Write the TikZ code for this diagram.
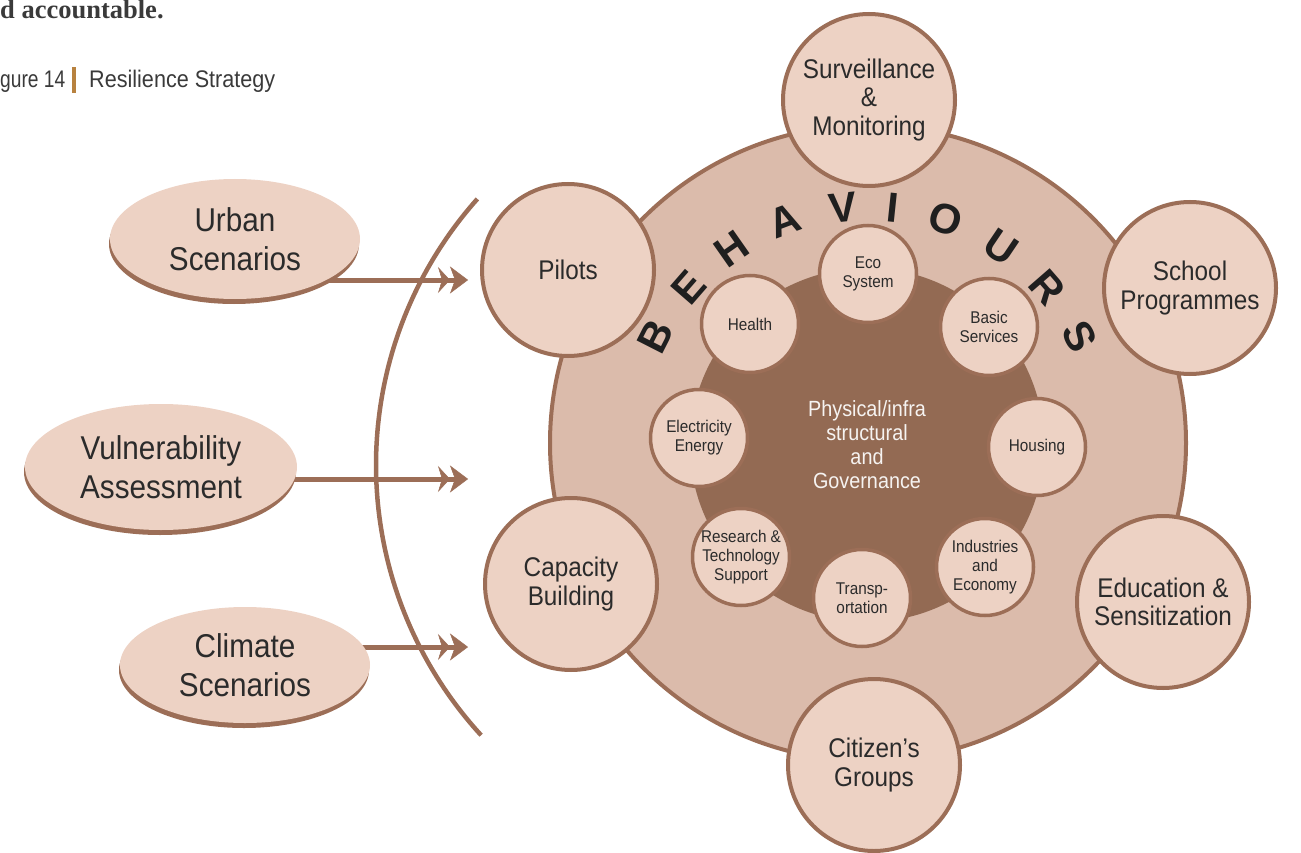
\documentclass[tikz,border=0pt]{standalone}
\usepackage{fontspec}
\setmainfont{Liberation Sans}[FakeStretch=0.9]
\newfontfamily\behfont{Liberation Sans}
\newfontfamily\headserif{Liberation Serif}
\newfontfamily\narrowsans{Liberation Sans}[FakeStretch=0.8]
\usetikzlibrary{shapes.geometric,arrows.meta,shadows,backgrounds}
\definecolor{lightf}{HTML}{EDD2C4}
\definecolor{ringf}{HTML}{DBBBAB}
\definecolor{darkf}{HTML}{936A53}
\definecolor{brd}{HTML}{9C6E57}
\definecolor{txt}{HTML}{2B2B2B}
\definecolor{headtxt}{HTML}{3A3A3A}
\definecolor{gold}{HTML}{B8823F}
\begin{document}
\begin{tikzpicture}[x=1pt,y=-1pt,
  bigc/.style={circle,draw=brd,line width=4pt,fill=lightf,minimum size=172pt,inner sep=0pt,align=center,text=txt,font=\fontsize{27}{28.5}\selectfont},
  smallc/.style={circle,draw=brd,line width=3.5pt,fill=lightf,minimum size=97pt,inner sep=0pt,align=center,text=txt,font=\fontsize{17}{19}\selectfont},
  ell/.style={ellipse,fill=lightf,inner sep=0pt,align=center,text=txt,font=\fontsize{33}{39}\selectfont,drop shadow={shadow xshift=-1pt,shadow yshift=-5pt,fill=brd,opacity=1}},
  arr/.style={draw=brd,line width=5pt,-{Stealth[length=12pt,width=26pt,inset=4pt,line width=0.5pt]Stealth[length=18pt,width=27pt,inset=5pt,line width=0.5pt]}},
  letter/.style={font=\behfont\bfseries\fontsize{42}{42}\selectfont,text=black!88,inner sep=0pt}
]
\useasboundingbox (0,0) rectangle (1301,853);

% header
\node[anchor=base west,inner sep=0pt,font=\headserif\bfseries\fontsize{26.5}{26.5}\selectfont,text=headtxt] (hd) at (0,19) {d accountable.};
\node[anchor=base west,inner sep=0pt,font=\narrowsans\fontsize{24}{24}\selectfont,text=headtxt] (fig) at (0,88) {gure 14};
\fill[gold] (72,67) rectangle (76,93);
\node[anchor=base west,inner sep=0pt,font=\fontsize{24}{24}\selectfont,text=headtxt] (title) at (89,88) {Resilience Strategy};

% ring and core
\node[circle,draw=brd,line width=4pt,fill=ringf,minimum size=636pt,inner sep=0pt] (ring) at (868,443) {};
\node[circle,fill=darkf,minimum size=354pt,inner sep=0pt,align=center,text=white!92!darkf,font=\fontsize{22}{24}\selectfont] (core) at (867,445) {Physical/infra\\structural\\and\\Governance};

% small circles
\node[smallc] (eco) at (868,274) {Eco\\System};
\node[smallc] (health) at (750,324) {Health};
\node[smallc] (basic) at (989,327) {Basic\\Services};
\node[smallc] (elec) at (699,438) {Electricity\\Energy};
\node[smallc] (housing) at (1037,447) {Housing};
\node[smallc] (research) at (741,557) {Research \&\\Technology\\Support};
\node[smallc] (industries) at (985,567) {Industries\\and\\Economy};
\node[smallc] (transp) at (862,598) {Transp-\\ortation};

% BEHAVIOURS
\foreach \ch/\a in {B/153,E/139,H/125,A/110.5,V/96,I/84,O/71,U/56,R/41,S/27}
  \node[letter,rotate=\a-90] (l\ch) at ({868+238*cos(\a)},{444-238*sin(\a)}) {\ch};

% outer circles
\node[bigc] (surv) at (869,100) {Surveillance\\\&\\Monitoring};
\node[bigc] (school) at (1190,288) {School\\Programmes};
\node[bigc] (edu) at (1163,602) {Education \&\\Sensitization};
\node[bigc] (citizen) at (874,765) {Citizen’s\\Groups};
\node[bigc] (capacity) at (571,584) {Capacity\\Building};
\node[bigc] (pilots) at (568,270) {Pilots};

% ellipses
\node[ell,minimum width=250pt,minimum height=120pt] (urban) at (235,239) {Urban\\Scenarios};
\node[ell,minimum width=272pt,minimum height=126pt] (vuln) at (161,467) {Vulnerability\\Assessment};
\node[ell,minimum width=250pt,minimum height=116pt] (climate) at (245,665) {Climate\\Scenarios};

% arrow ends
\coordinate (ue) at (468,280);
\coordinate (ve) at (468,479);
\coordinate (ce) at (468,647);
\begin{scope}[on background layer]
  \draw[arr] (urban.center |- ue) -- (ue);
  \draw[arr] (vuln.center |- ve) -- (ve);
  \draw[arr] (climate.center |- ce) -- (ce);
\end{scope}

% arc
\draw[brd,line width=4.5pt] plot[domain=138.3:222.5,samples=90] ({776+400*cos(\x)},{465-400*sin(\x)});
\end{tikzpicture}
\end{document}
